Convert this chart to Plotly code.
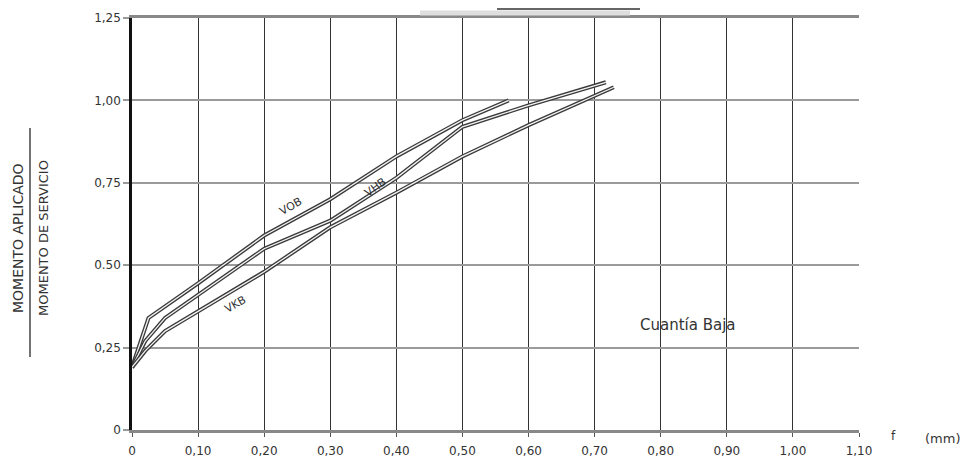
import plotly.graph_objects as go

# ---- data ----
vob_x = [0.0, 0.025, 0.10, 0.20, 0.30, 0.40, 0.50, 0.57]
vob_y = [0.19, 0.34, 0.445, 0.59, 0.70, 0.83, 0.94, 1.00]

vhb_x = [0.0, 0.02, 0.05, 0.10, 0.20, 0.30, 0.40, 0.50, 0.60, 0.717]
vhb_y = [0.19, 0.27, 0.34, 0.41, 0.55, 0.635, 0.765, 0.92, 0.985, 1.055]

vkb_x = [0.0, 0.02, 0.05, 0.10, 0.20, 0.30, 0.40, 0.50, 0.60, 0.729]
vkb_y = [0.19, 0.24, 0.30, 0.36, 0.48, 0.615, 0.72, 0.83, 0.925, 1.04]

x_ticks = [0, 0.1, 0.2, 0.3, 0.4, 0.5, 0.6, 0.7, 0.8, 0.9, 1.0, 1.1]
x_ticktext = ["0", "0,10", "0,20", "0,30", "0,40", "0,50", "0,60", "0,70",
              "0,80", "0,90", "1,00", "1,10"]
y_ticks = [0, 0.25, 0.5, 0.75, 1.0, 1.25]
y_ticktext = ["0", "0,25", "0.50", "0,75", "1,00", "1,25"]

series = [("VOB", vob_x, vob_y), ("VHB", vhb_x, vhb_y), ("VKB", vkb_x, vkb_y)]

fig = go.Figure()
for name, xs, ys in series:
    fig.add_trace(go.Scatter(x=xs, y=ys, mode="lines", name=name,
                             line=dict(color="#3a3a3a", width=4),
                             showlegend=False, hoverinfo="skip"))
    fig.add_trace(go.Scatter(x=xs, y=ys, mode="lines", name=name,
                             line=dict(color="#f4f4f4", width=1.3),
                             showlegend=False))

txt = dict(family="DejaVu Sans", color="#333")

annots = [
    dict(x=0.24, y=0.678, text="VOB", textangle=-30, font=dict(size=11, **txt)),
    dict(x=0.368, y=0.735, text="VHB", textangle=-36, font=dict(size=11, **txt)),
    dict(x=0.156, y=0.382, text="VKB", textangle=-30, font=dict(size=11, **txt)),
    dict(x=0.841, y=0.318, text="Cuantía Baja", font=dict(size=15, **txt)),
]
for a in annots:
    fig.add_annotation(xref="x", yref="y", showarrow=False,
                       xanchor="center", yanchor="middle", **a)

# page body has an 8px margin on every side; the figure is sized so the whole
# page fits the window and the plot area lands where the reference has it
OFF = 8
W, H = 974 - 2 * OFF, 467 - 2 * OFF
L, T = 132 - OFF, 18 - OFF
R = (W + OFF) - 859
B = (H + OFF) - 430
pw, ph = W - L - R, H - T - B

def px(xp):  # page pixel x -> paper x
    return (xp - OFF - L) / pw

def py(yp):  # page pixel y -> paper y
    return (H - B - (yp - OFF)) / ph

fig.add_annotation(xref="paper", yref="paper", x=px(18), y=py(238),
                   text="MOMENTO APLICADO", textangle=-90, showarrow=False,
                   xanchor="center", yanchor="middle",
                   font=dict(size=14, **txt))
fig.add_annotation(xref="paper", yref="paper", x=px(43), y=py(238),
                   text="MOMENTO DE SERVICIO", textangle=-90, showarrow=False,
                   xanchor="center", yanchor="middle",
                   font=dict(size=13, **txt))
fig.add_shape(type="line", xref="paper", yref="paper",
              x0=px(30), x1=px(30), y0=py(357), y1=py(128),
              line=dict(color="#444", width=1.5))
fig.add_annotation(xref="paper", yref="paper", x=px(894), y=py(436),
                   text="f", showarrow=False, xanchor="center", yanchor="middle",
                   font=dict(size=12, **txt))
fig.add_annotation(xref="paper", yref="paper", x=px(942), y=py(438),
                   text="(mm)", showarrow=False, xanchor="center", yanchor="middle",
                   font=dict(size=13, **txt))

# cut-off, unreadable title fragment at the top
fig.add_shape(type="line", xref="paper", yref="paper",
              x0=px(420), x1=px(630), y0=py(13), y1=py(13),
              line=dict(color="#dedede", width=5))
fig.add_shape(type="line", xref="paper", yref="paper",
              x0=px(497), x1=px(640), y0=py(9), y1=py(9),
              line=dict(color="#666", width=2))

fig.update_xaxes(range=[0, 1.1], tickvals=x_ticks, ticktext=x_ticktext,
                 showgrid=True, gridcolor="#333", gridwidth=1.3,
                 showline=True, linecolor="#888", linewidth=2.5, mirror=True,
                 ticks="outside", ticklen=4, tickcolor="#555",
                 zeroline=False, tickfont=dict(size=12, **txt),
                 ticklabelstandoff=4, automargin=False)
fig.update_yaxes(range=[0, 1.25], tickvals=y_ticks, ticktext=y_ticktext,
                 showgrid=True, gridcolor="#9a9a9a", gridwidth=2.2,
                 showline=True, linecolor="#111", linewidth=2.5,
                 ticks="outside", ticklen=6, tickcolor="#9a9a9a", tickwidth=2,
                 zeroline=False, tickfont=dict(size=12, **txt),
                 automargin=False)

fig.update_layout(width=W, height=H, margin=dict(l=L, r=R, t=T, b=B, pad=0),
                  autosize=False,
                  paper_bgcolor="white", plot_bgcolor="white")

fig.write_html("out.html")
